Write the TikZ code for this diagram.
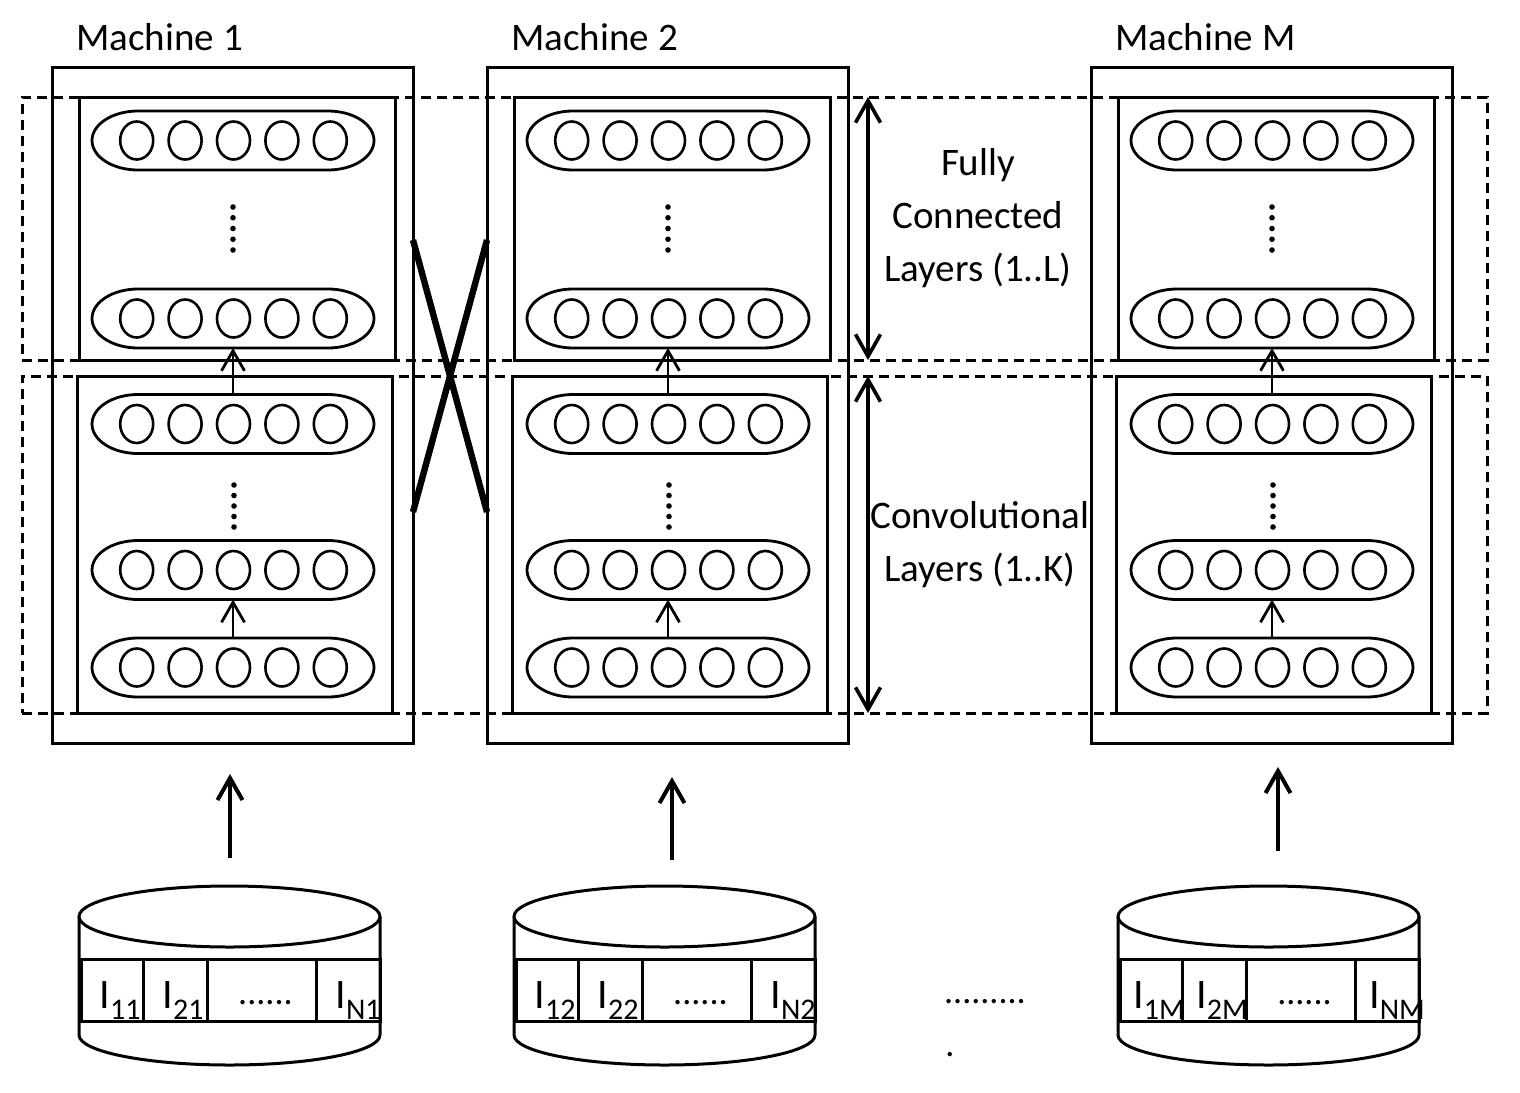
\documentclass[tikz,border=0pt]{standalone}
\usepackage{fontspec}
\setmainfont{Carlito}
\usetikzlibrary{arrows.meta,shapes.geometric,positioning,calc}

\tikzset{
  machine/.style={draw, rectangle, line width=1.5pt, inner sep=0, outer sep=0},
  stagebox/.style={draw, rectangle, line width=1.5pt, inner sep=0, outer sep=0},
  band/.style={draw, dashed, dash pattern=on 5pt off 3pt, line width=1.5pt, rectangle,
    inner sep=0, outer sep=0, minimum width=732.5pt},
  layerbox/.style={rectangle, inner sep=0, outer sep=0, minimum width=141pt, minimum height=29.5pt},
  neuron/.style={draw, ellipse, inner sep=0, line width=1.3pt, minimum width=16.5pt, minimum height=19pt},
  cell/.style={draw, rectangle, inner sep=0, outer sep=0, minimum height=31pt, line width=1.5pt},
  mlabel/.style={font=\fontsize{19.5}{26.5}\selectfont},
  imgtext/.style={anchor=base, inner sep=0, font=\fontsize{21}{24}\selectfont},
  dotstext/.style={anchor=base, inner sep=0, font=\fontsize{18}{20}\selectfont},
  bigarrow/.style={line width=1.8pt, >={Straight Barb[length=11pt,width=12.5pt]}},
}

% one layer: capsule with five neurons
\newcommand\layerrow[3]{%
  \node[layerbox] (#1) at (#2,#3) {};
  \draw ($(#1.north west)+(46,0)$) -- ($(#1.north east)+(-46,0)$)
    arc[start angle=-90, end angle=90, x radius=46, y radius=29.5]
    -- ($(#1.south west)+(46,0)$)
    arc[start angle=90, end angle=270, x radius=46, y radius=29.5] -- cycle;
  \foreach \k in {-2,...,2}
    \node[neuron] (#1-n\k) at ($(#1)+(\k*48.4+0.5,0)$) {};
}
\newcommand\imgsub[1]{I\raisebox{-5.5pt}{\fontsize{15}{15}\selectfont #1}}

\begin{document}
\begin{tikzpicture}[x=0.5pt, y=-0.5pt, line width=1.4pt,
    >={Straight Barb[length=10pt,width=11.5pt]}]
  \useasboundingbox (0,0) rectangle (1520,1092);

  % layer bands
  \node[band, minimum height=131.5pt] (fcband) at (754.5,228.5) {};
  \node[band, minimum height=168.5pt] (cvband) at (754.5,544.5) {};

  \foreach \dx/\lbl/\ax/\ab/\at [count=\m] in
      {0/1/230/858/774, 435/2/672/860/777, 1039/M/1278/851/767} {
    % machine and its two stages
    \node[machine, minimum width=180.5pt, minimum height=338pt] (m\m) at (232.5+\dx,405) {};
    \node[mlabel, anchor=base west, inner sep=0] (l\m) at (75+\dx,50) {Machine \lbl};
    \node[stagebox, minimum width=158pt, minimum height=131.5pt] (fc\m) at (237+\dx,228.5) {};
    \node[stagebox, minimum width=157.5pt, minimum height=168.5pt] (cv\m) at (234.5+\dx,544.5) {};

    \layerrow{c\m-1}{233+\dx}{140.5}
    \layerrow{c\m-2}{233+\dx}{318.5}
    \layerrow{c\m-3}{233+\dx}{424}
    \layerrow{c\m-4}{233+\dx}{570}
    \layerrow{c\m-5}{233+\dx}{667.5}

    \foreach \k in {0,...,4} {
      \fill (233+\dx,207+\k*10.75) circle[radius=1.4pt];
      \fill (234+\dx,485+\k*10.5) circle[radius=1.4pt];
    }

    \draw[->] (c\m-3.north) -- (c\m-2.south);
    \draw[->] (c\m-5.north) -- (c\m-4.south);

    % data store
    \draw[line width=1.5pt] (79+\dx,916.5) -- (79+\dx,1035)
      arc[start angle=180, end angle=0, x radius=150.5, y radius=30] -- (380+\dx,916.5);
    \draw[line width=1.5pt] (229.5+\dx,916.5) ellipse[x radius=150.5, y radius=30.5];
    \node[cell, minimum width=31pt, anchor=west] (d\m-1) at (81+\dx,990) {};
    \node[cell, minimum width=32pt, right=0pt of d\m-1] (d\m-2) {};
    \node[cell, minimum width=54.5pt, right=0pt of d\m-2] (d\m-3) {};
    \node[cell, minimum width=32pt, right=0pt of d\m-3] (d\m-4) {};
    \node[imgtext] (t\m-1) at ([xshift=4pt,yshift=-9pt]d\m-1.center) {\imgsub{1\lbl}};
    \node[imgtext] (t\m-2) at ([xshift=4pt,yshift=-9pt]d\m-2.center) {\imgsub{2\lbl}};
    \node[dotstext] (t\m-3) at ([xshift=2pt,yshift=-7pt]d\m-3.center) {......};
    \node[imgtext] (t\m-4) at ([xshift=5pt,yshift=-9pt]d\m-4.center) {\imgsub{N\lbl}};

    % input
    \coordinate (in\m) at (\ax,\ab);
    \coordinate (to\m) at (\ax,\at);
    \draw[->, bigarrow, line width=2pt] (in\m) -- (to\m);
  }

  % exchange between machines
  \draw[line width=3.2pt] ($(m1.north east)+(0,173)$) -- ($(m2.north west)+(0,445)$);
  \draw[line width=3.2pt] ($(m2.north west)+(0,173)$) -- ($(m1.north east)+(0,445)$);

  % stage extents
  \coordinate (axis) at (868,0);
  \draw[<->, bigarrow] (fcband.north -| axis) -- (fcband.south -| axis);
  \draw[<->, bigarrow] (cvband.north -| axis) -- (cvband.south -| axis);
  \node[mlabel, align=center] (fctext) at (978,218) {Fully\\Connected\\Layers (1..L)};
  \node[mlabel, align=center] (cvtext) at (980,545) {Convolutional\\Layers (1..K)};

  \node[dotstext] (more) at (985,1003) {.........};
  \node[dotstext] (moredot) at (950,1056) {.};
\end{tikzpicture}
\end{document}
